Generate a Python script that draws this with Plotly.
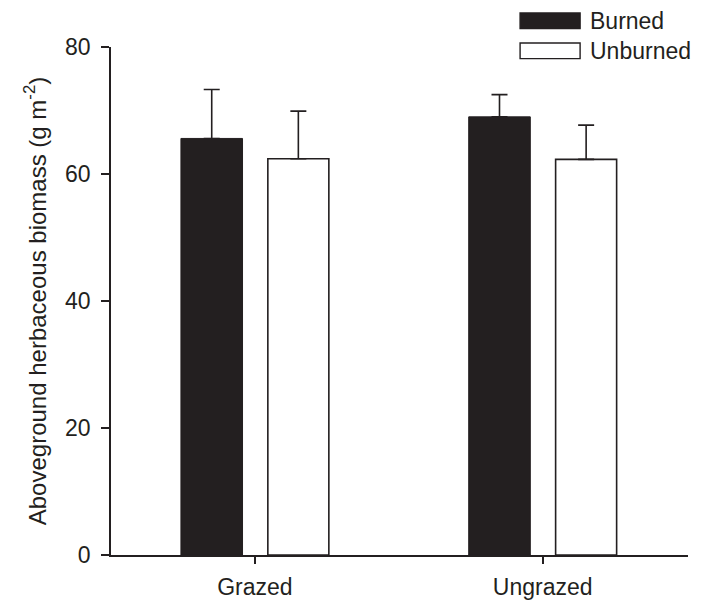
import plotly.graph_objects as go

categories = ["Grazed", "Ungrazed"]
burned = [65.6, 69.0]
burned_err = [7.7, 3.5]
unburned = [62.4, 62.3]
unburned_err = [7.5, 5.4]
y_ticks = [0, 20, 40, 60, 80]

INK = "#231f20"
FONT = "Liberation Sans, Arial, Helvetica, sans-serif"
xpos = list(range(len(categories)))

fig = go.Figure()
fig.add_trace(go.Bar(
    x=xpos, y=burned, name="Burned", width=0.214, offset=-0.257,
    marker=dict(color=INK, line=dict(color=INK, width=1)),
    error_y=dict(type="data", array=burned_err, arrayminus=[0, 0], symmetric=False,
                 color=INK, thickness=1.6, width=8),
))
fig.add_trace(go.Bar(
    x=xpos, y=unburned, name="Unburned", width=0.212, offset=0.045,
    marker=dict(color="white", line=dict(color=INK, width=1.6)),
    error_y=dict(type="data", array=unburned_err, arrayminus=[0, 0], symmetric=False,
                 color=INK, thickness=1.6, width=8),
))

# manual legend (paper coords)
legend_items = [("Burned", INK, 1.0669, 1.0362), ("Unburned", "white", 1.0079, 0.9772)]
for label, fill, y1, y0 in legend_items:
    fig.add_shape(type="rect", xref="paper", yref="paper", x0=0.709, x1=0.813, y0=y0, y1=y1,
                  fillcolor=fill, line=dict(color=INK, width=1.4))
    fig.add_annotation(xref="paper", yref="paper", x=0.8268, y=(y0 + y1) / 2, text=label,
                       showarrow=False, xanchor="left", yanchor="middle",
                       font=dict(family=FONT, size=23, color=INK))

fig.update_layout(
    width=710, height=603,
    margin=dict(l=111, r=22, t=47, b=48, autoexpand=False),
    paper_bgcolor="white", plot_bgcolor="white",
    barmode="overlay", showlegend=False,
    font=dict(family=FONT, size=23, color=INK),
)
fig.update_xaxes(
    range=[-0.5, 1.505], tickmode="array", tickvals=xpos, ticktext=categories,
    showline=True, linecolor=INK, linewidth=2, ticks="outside", ticklen=7,
    tickwidth=1.6, tickcolor=INK, showgrid=False, zeroline=False,
    ticklabelstandoff=3,
    tickfont=dict(family=FONT, size=23, color=INK),
)
fig.update_yaxes(
    range=[0, 80], tickvals=y_ticks, showline=True, linecolor=INK, linewidth=1.8,
    ticks="outside", ticklen=8, tickwidth=1.6, tickcolor=INK, showgrid=False,
    zeroline=False, ticklabelstandoff=6,
    tickfont=dict(family=FONT, size=23, color=INK),
    title=dict(text="Aboveground herbaceous biomass (g m<sup>-2</sup>)",
               font=dict(family=FONT, size=24, color=INK), standoff=12),
)

fig.write_html("out.html", post_script="document.body.style.margin='0';",
               config={"displayModeBar": False})
